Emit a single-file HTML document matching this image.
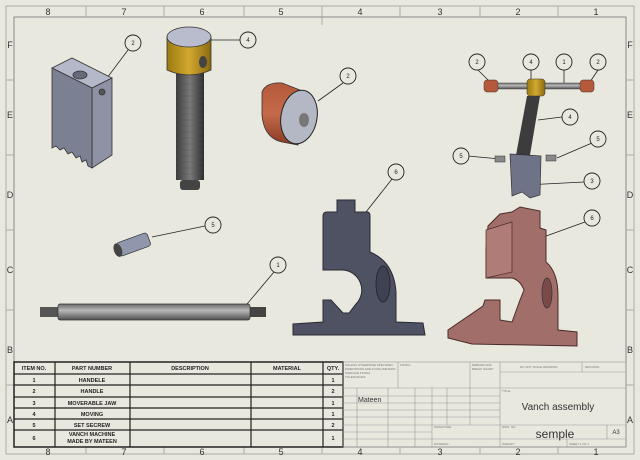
<!DOCTYPE html>
<html><head><meta charset="utf-8"><style>
body{margin:0;background:#e9e8df}
svg{display:block}
text{font-family:"Liberation Sans",sans-serif}
</style></head><body>
<svg width="640" height="460" viewBox="0 0 640 460" xmlns="http://www.w3.org/2000/svg">
<defs>
<linearGradient id="thr" x1="0" x2="1"><stop offset="0" stop-color="#3a3a3a"/><stop offset="0.5" stop-color="#7a7a7a"/><stop offset="1" stop-color="#2e2e2e"/></linearGradient>
<linearGradient id="rod" x1="0" y1="0" x2="0" y2="1"><stop offset="0" stop-color="#6a6a6a"/><stop offset="0.4" stop-color="#b8b8b8"/><stop offset="1" stop-color="#505050"/></linearGradient>
<linearGradient id="gold" x1="0" x2="1"><stop offset="0" stop-color="#9a7a10"/><stop offset="0.5" stop-color="#d2a830"/><stop offset="1" stop-color="#8a6a10"/></linearGradient>
<linearGradient id="red" x1="0" y1="0" x2="0" y2="1"><stop offset="0" stop-color="#b45a3a"/><stop offset="0.5" stop-color="#c46a4a"/><stop offset="1" stop-color="#8a3a24"/></linearGradient>
</defs>
<rect width="640" height="460" fill="#e9e8df"/>
<rect x="6" y="6" width="628" height="448" fill="none" stroke="#aaa" stroke-width="1"/>
<rect x="14" y="17" width="612" height="430" fill="none" stroke="#888" stroke-width="1"/>
<g stroke="#aaa" stroke-width="1">
<line x1="86" y1="6" x2="86" y2="17"/><line x1="164" y1="6" x2="164" y2="17"/><line x1="244" y1="6" x2="244" y2="17"/><line x1="322" y1="6" x2="322" y2="25"/><line x1="400" y1="6" x2="400" y2="17"/><line x1="480" y1="6" x2="480" y2="17"/><line x1="558" y1="6" x2="558" y2="17"/>
<line x1="86" y1="447" x2="86" y2="454"/><line x1="164" y1="447" x2="164" y2="454"/><line x1="244" y1="447" x2="244" y2="454"/><line x1="322" y1="447" x2="322" y2="454"/><line x1="400" y1="447" x2="400" y2="454"/><line x1="480" y1="447" x2="480" y2="454"/><line x1="558" y1="447" x2="558" y2="454"/>
<line x1="6" y1="80" x2="14" y2="80"/><line x1="6" y1="155" x2="14" y2="155"/><line x1="6" y1="230" x2="14" y2="230"/><line x1="6" y1="310" x2="14" y2="310"/><line x1="6" y1="385" x2="14" y2="385"/>
<line x1="626" y1="80" x2="634" y2="80"/><line x1="626" y1="155" x2="634" y2="155"/><line x1="626" y1="230" x2="634" y2="230"/><line x1="626" y1="310" x2="634" y2="310"/><line x1="626" y1="385" x2="634" y2="385"/>
</g>
<g font-size="9" fill="#333" text-anchor="middle">
<text x="48" y="15">8</text><text x="124" y="15">7</text><text x="202" y="15">6</text><text x="281" y="15">5</text><text x="360" y="15">4</text><text x="440" y="15">3</text><text x="518" y="15">2</text><text x="596" y="15">1</text>
<text x="48" y="455">8</text><text x="124" y="455">7</text><text x="202" y="455">6</text><text x="281" y="455">5</text><text x="360" y="455">4</text><text x="440" y="455">3</text><text x="518" y="455">2</text><text x="596" y="455">1</text>
<text x="10" y="48">F</text><text x="10" y="118">E</text><text x="10" y="198">D</text><text x="10" y="273">C</text><text x="10" y="353">B</text><text x="10" y="423">A</text>
<text x="630" y="48">F</text><text x="630" y="118">E</text><text x="630" y="198">D</text><text x="630" y="273">C</text><text x="630" y="353">B</text><text x="630" y="423">A</text>
</g>

<g stroke="#222" stroke-width="0.8" fill="none">
<line x1="128" y1="50" x2="104" y2="82"/>
<line x1="211" y1="40" x2="240" y2="40"/>
<line x1="343" y1="83" x2="318" y2="101"/>
<line x1="205" y1="226" x2="152" y2="237"/>
<line x1="274" y1="272" x2="242" y2="310"/>
<line x1="392" y1="179" x2="366" y2="212"/>
<line x1="585" y1="222" x2="535" y2="240"/>
<line x1="584" y1="182" x2="525" y2="185"/>
<line x1="562" y1="117" x2="538" y2="120"/>
<line x1="468" y1="156" x2="500" y2="159"/>
<line x1="592" y1="143" x2="557" y2="158"/>
<line x1="478" y1="70" x2="490" y2="82"/>
<line x1="531" y1="70" x2="531" y2="80"/>
<line x1="564" y1="70" x2="564" y2="84"/>
<line x1="598" y1="70" x2="590" y2="82"/>
</g>
<g stroke="#222" stroke-width="0.9" fill="#e9e8df">
<circle cx="133" cy="43" r="8"/><circle cx="248" cy="40" r="8"/><circle cx="348" cy="76" r="8"/>
<circle cx="213" cy="225" r="8"/><circle cx="278" cy="265" r="8"/><circle cx="396" cy="172" r="8"/>
<circle cx="592" cy="218" r="8"/><circle cx="592" cy="181" r="8"/><circle cx="570" cy="117" r="8"/>
<circle cx="461" cy="156" r="8"/><circle cx="598" cy="139" r="8"/>
<circle cx="477" cy="62" r="8"/><circle cx="531" cy="62" r="8"/><circle cx="564" cy="62" r="8"/><circle cx="598" cy="62" r="8"/>
</g>
<g font-size="6" fill="#222" text-anchor="middle">
<text x="133" y="45">2</text><text x="248" y="42">4</text><text x="348" y="78">2</text><text x="213" y="227">5</text><text x="278" y="267">1</text><text x="396" y="174">6</text>
<text x="592" y="220">6</text><text x="592" y="183">3</text><text x="570" y="119">4</text><text x="461" y="158">5</text><text x="598" y="141">5</text>
<text x="477" y="64">2</text><text x="531" y="64">4</text><text x="564" y="64">1</text><text x="598" y="64">2</text>
</g>

<g stroke="#333" stroke-width="0.8">
<polygon points="52,68 72,58 112,78 92,88" fill="#b4b8c8"/>
<polygon points="92,88 112,78 112,155 92,168" fill="#8e92a4"/>
<polygon points="52,68 92,88 92,168 88,166 86,160 82,162 80,156 76,158 72,152 68,154 64,148 60,150 56,146 52,148" fill="#7b8092"/>
<ellipse cx="80" cy="75" rx="7" ry="4" fill="#666a7a"/>
<circle cx="102" cy="92" r="3" fill="#555"/>
</g>
<rect x="176" y="72" width="28" height="108" fill="url(#thr)"/>
<g stroke="#555" stroke-width="0.6" opacity="0.6">
<path d="M176,78h28M176,84h28M176,90h28M176,96h28M176,102h28M176,108h28M176,114h28M176,120h28M176,126h28M176,132h28M176,138h28M176,144h28M176,150h28M176,156h28M176,162h28M176,168h28M176,174h28"/>
</g>
<rect x="180" y="180" width="20" height="10" rx="3" fill="#444"/>
<path d="M167,37 L167,70 Q189,80 211,70 L211,37 Z" fill="url(#gold)" stroke="#333" stroke-width="0.8"/>
<ellipse cx="189" cy="37" rx="22" ry="10" fill="#b8bccc" stroke="#333" stroke-width="0.8"/>
<ellipse cx="203" cy="62" rx="4" ry="6" fill="#444"/>
<!-- roller -->
<path d="M262,92 Q266,82 282,83 L300,90 L298,145 L282,142 Q264,138 262,115 Z" fill="url(#red)" stroke="#333" stroke-width="0.8"/>
<ellipse cx="299" cy="117" rx="18" ry="27" transform="rotate(10 299 117)" fill="#b4b8c4" stroke="#222" stroke-width="1"/>
<ellipse cx="304" cy="120" rx="5" ry="7" fill="#777"/>
<g transform="rotate(-20 132 245)">
<rect x="117" y="238" width="33" height="14" rx="3" fill="#9096ac" stroke="#333" stroke-width="0.7"/>
<ellipse cx="117" cy="245" rx="4" ry="7" fill="#444"/>
</g>
<rect x="40" y="307" width="20" height="10" fill="#555"/>
<rect x="248" y="307" width="18" height="10" fill="#444"/>
<rect x="58" y="304" width="192" height="16" rx="2" fill="url(#rod)" stroke="#333" stroke-width="0.7"/>
<path d="M323,216 Q323,212 327,212 L337,212 L337,200 L355,200 L355,212 L367,212 Q370,212 370,216 L370,252 Q394,262 396,292 L396,322 L423,323 L425,335 L293,335 L293,324 L323,322 L323,300 L331,300 L343,313 L349,313 L356,304 A20,20 0 0 0 342,270 L323,270 Z" fill="#4e5262" stroke="#2a2a34" stroke-width="1"/>
<ellipse cx="383" cy="284" rx="7" ry="18" fill="#3e4252" stroke="#222" stroke-width="0.8"/>
<path d="M488,226 L500,214 L512,212 L520,207 L540,211 L540,228 L546,230 L546,262 Q558,272 558,296 L558,330 L577,332 L577,346 L472,344 L448,338 L448,330 L483,306 L485,300 L500,300 L500,320 L512,322 L520,300 L524,290 Q520,280 512,278 L486,278 L486,250 Z" fill="#a26e6a" stroke="#4a2a28" stroke-width="1"/>
<ellipse cx="547" cy="293" rx="5" ry="15" fill="#7a4a48" stroke="#333" stroke-width="0.7"/>
<path d="M486,230 L512,222 L512,272 L486,278 Z" fill="#b07c78" stroke="#4a2a28" stroke-width="0.7"/>
<rect x="490" y="83" width="100" height="6" fill="url(#rod)" stroke="#444" stroke-width="0.5"/>
<rect x="484" y="80" width="14" height="12" rx="3" fill="#b45a3a" stroke="#333" stroke-width="0.5"/>
<rect x="580" y="80" width="14" height="12" rx="3" fill="#b45a3a" stroke="#333" stroke-width="0.5"/>
<polygon points="527,96 540,96 530,155 516,155" fill="#3c3c3c"/>
<rect x="527" y="79" width="18" height="17" rx="3" fill="url(#gold)" stroke="#333" stroke-width="0.5"/>
<polygon points="510,154 541,156 540,195 530,198 522,192 512,196" fill="#6e7388" stroke="#333" stroke-width="0.7"/>
<rect x="495" y="156" width="10" height="6" fill="#888" stroke="#333" stroke-width="0.5"/>
<rect x="546" y="155" width="10" height="6" fill="#888" stroke="#333" stroke-width="0.5"/>

<g stroke="#222" fill="none">
<rect x="14" y="362" width="329" height="85" stroke-width="1.5"/>
<g stroke-width="1.2">
<line x1="55" y1="362" x2="55" y2="447"/><line x1="130" y1="362" x2="130" y2="447"/><line x1="251" y1="362" x2="251" y2="447"/><line x1="323" y1="362" x2="323" y2="447"/>
<line x1="14" y1="374" x2="343" y2="374"/><line x1="14" y1="385" x2="343" y2="385"/><line x1="14" y1="397" x2="343" y2="397"/><line x1="14" y1="408" x2="343" y2="408"/><line x1="14" y1="419" x2="343" y2="419"/><line x1="14" y1="430" x2="343" y2="430"/>
</g></g>
<g font-size="5.5" font-weight="bold" fill="#222" text-anchor="middle">
<text x="34" y="370">ITEM NO.</text><text x="92" y="370">PART NUMBER</text><text x="190" y="370">DESCRIPTION</text><text x="287" y="370">MATERIAL</text><text x="333" y="370">QTY.</text>
<text x="34" y="382">1</text><text x="92" y="382">HANDELE</text><text x="333" y="382">1</text>
<text x="34" y="393">2</text><text x="92" y="393">HANDLE</text><text x="333" y="393">2</text>
<text x="34" y="405">3</text><text x="92" y="405">MOVERABLE JAW</text><text x="333" y="405">1</text>
<text x="34" y="416">4</text><text x="92" y="416">MOVING</text><text x="333" y="416">1</text>
<text x="34" y="427">5</text><text x="92" y="427">SET SECREW</text><text x="333" y="427">2</text>
<text x="34" y="440">6</text><text x="92" y="436">VANCH MACHINE</text><text x="92" y="443">MADE BY MATEEN</text><text x="333" y="440">1</text>
</g>
<g stroke="#999" stroke-width="0.6" fill="none">
<rect x="343" y="362" width="283" height="85"/>
<line x1="398" y1="362" x2="398" y2="388"/><line x1="470" y1="362" x2="470" y2="425"/><line x1="500" y1="362" x2="500" y2="447"/>
<line x1="343" y1="388" x2="626" y2="388"/><line x1="500" y1="372" x2="626" y2="372"/><line x1="582" y1="362" x2="582" y2="372"/>
<line x1="343" y1="396" x2="500" y2="396"/><line x1="343" y1="403" x2="500" y2="403"/><line x1="343" y1="410" x2="500" y2="410"/><line x1="343" y1="417" x2="500" y2="417"/><line x1="343" y1="425" x2="626" y2="425"/><line x1="343" y1="432" x2="432" y2="432"/><line x1="343" y1="439" x2="626" y2="439"/>
<line x1="357" y1="388" x2="357" y2="447"/><line x1="388" y1="388" x2="388" y2="447"/><line x1="415" y1="388" x2="415" y2="447"/><line x1="432" y1="388" x2="432" y2="447"/><line x1="447" y1="388" x2="447" y2="425"/>
<line x1="607" y1="425" x2="607" y2="439"/><line x1="567" y1="439" x2="567" y2="447"/>
</g>
<g font-size="3" fill="#777">
<text x="345" y="366">UNLESS OTHERWISE SPECIFIED:</text><text x="345" y="370">DIMENSIONS ARE IN MILLIMETERS</text><text x="345" y="374">SURFACE FINISH:</text><text x="345" y="378">TOLERANCES:</text>
<text x="400" y="366">FINISH:</text><text x="472" y="366">DEBURR AND</text><text x="472" y="370">BREAK SHARP</text>
<text x="520" y="368">DO NOT SCALE DRAWING</text><text x="585" y="368">REVISION</text><text x="502" y="392">TITLE:</text>
<text x="502" y="428">DWG. NO.</text><text x="434" y="428">SIGNATURE</text><text x="434" y="445">MATERIAL:</text><text x="502" y="445">WEIGHT:</text><text x="569" y="445">SHEET 1 OF 1</text>
</g>
<text x="358" y="402" font-size="7" fill="#333">Mateen</text>
<text x="558" y="410" font-size="10" fill="#333" text-anchor="middle">Vanch assembly</text>
<text x="555" y="438" font-size="12" fill="#333" text-anchor="middle">semple</text>
<text x="616" y="434" font-size="6" fill="#333" text-anchor="middle">A3</text>
</svg>
</body></html>
